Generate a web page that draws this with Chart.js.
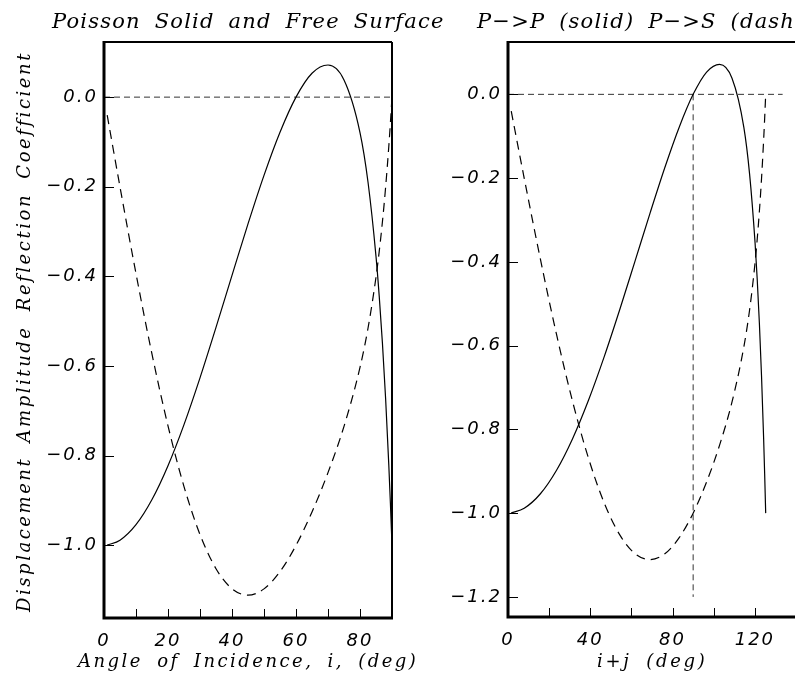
<!DOCTYPE html>
<html>
<head>
<meta charset="utf-8">
<script src="https://cdn.jsdelivr.net/npm/chart.js@4.4.1/dist/chart.umd.min.js"></script>
<style>
  html, body { margin: 0; padding: 0; background: #fff; }
  #fig { position: relative; width: 795px; height: 689px; overflow: hidden; background: #fff; }
  #fig canvas { position: absolute; top: 0; }
  .lbl { position: absolute; white-space: nowrap; font-family: "DejaVu Serif", serif; font-style: italic; color: #000; line-height: 1; word-spacing: 6px; }
</style>
</head>
<body>
<div id="fig">
  <canvas id="leftChart" width="430" height="689" style="left:0"></canvas>
  <canvas id="rightChart" width="420" height="689" style="left:420px"></canvas>
  <div class="lbl" id="title1" style="left:52px; top:10.5px; font-size:21px">Poisson Solid and Free Surface</div>
  <div class="lbl" id="title2" style="left:477px; top:10.5px; font-size:21px">P&minus;&gt;P (solid) P&minus;&gt;S (dashed)</div>
  <div class="lbl" id="xlab1" style="left:78px; top:652px; font-size:18px">Angle of Incidence, i, (deg)</div>
  <div class="lbl" id="xlab2" style="left:597px; top:652px; font-size:18px">i+j (deg)</div>
  <div class="lbl" id="ylab" style="left:15px; top:612px; font-size:18px; transform-origin:0 0; transform:rotate(-90deg)">Displacement Amplitude Reflection Coefficient</div>
</div>
<script>
// angle of incidence i (deg) and i+j (deg), with the two coefficients
const incidence = [1, 5, 10, 15, 20, 25, 30, 35, 40, 45, 50, 55, 60, 65, 70, 75, 80, 82.5, 85, 86, 87, 88, 89, 89.5, 90];
const sumAngle = [1.577, 7.885, 15.754, 23.594, 31.389, 39.123, 46.779, 54.339, 61.784, 69.095, 76.249, 83.225, 90.0,
  96.551, 102.856, 108.895, 114.651, 117.419, 120.110, 121.166, 122.209, 123.239, 124.258, 124.763, 125.264];
const rpp = [-0.9995, -0.9883, -0.9537, -0.8976, -0.8222, -0.7305, -0.6263, -0.5138, -0.3977, -0.2829, -0.1746, -0.0784, 0.0,
  0.0533, 0.0717, 0.0384, -0.0789, -0.1893, -0.3553, -0.4434, -0.5477, -0.6718, -0.8205, -0.9060, -1.0];
const rps = [-0.0403, -0.2004, -0.3937, -0.5734, -0.7334, -0.8688, -0.9758, -1.0520, -1.0968, -1.1110, -1.0970, -1.0586, -1.0,
  -0.9255, -0.8376, -0.7344, -0.6028, -0.5156, -0.4015, -0.3446, -0.2787, -0.2015, -0.1100, -0.0576, 0.0];

const zeroLineLeft = [0, 90];
const zeroLineRight = [0, 133.5];
const refLineX = 90;
const refLineY = [0, -1.2];

const leftXLabels = [0, 20, 40, 60, 80];
const leftXMarks = [10, 20, 30, 40, 50, 60, 70, 80];
const leftYLabels = [0, -0.2, -0.4, -0.6, -0.8, -1.0];
const rightXLabels = [0, 40, 80, 120];
const rightXMarks = [20, 40, 60, 80, 100, 120];
const rightYLabels = [0, -0.2, -0.4, -0.6, -0.8, -1.0, -1.2];

const tickFont = { family: "DejaVu Sans", style: "italic", size: 18 };

function pts(xs, ys) {
  return xs.map((x, k) => ({ x, y: ys[k] }));
}

function curve(data, dash) {
  return {
    data,
    borderColor: "#000",
    borderWidth: 1.2,
    borderDash: dash || [],
    pointRadius: 0,
    fill: false,
    cubicInterpolationMode: "monotone"
  };
}

function guide(data) {
  return { data, borderColor: "#333", borderWidth: 1, borderDash: [6, 4], pointRadius: 0, fill: false, tension: 0 };
}

function fmt(v) {
  return (v < 0 ? "\u2212" : "") + Math.abs(v).toFixed(1);
}

// frame with heavy left/bottom axes and inward tick marks
const framePlugin = {
  id: "frame",
  beforeDraw(chart) {
    chart.ctx.letterSpacing = "2px";
  },
  afterDraw(chart, args, opts) {
    const { ctx, chartArea: a, scales: { x, y } } = chart;
    ctx.save();
    ctx.strokeStyle = "#000";
    ctx.lineWidth = 1;
    ctx.beginPath();
    for (const v of opts.xMarks) {
      const px = Math.round(x.getPixelForValue(v)) + 0.5;
      ctx.moveTo(px, a.bottom);
      ctx.lineTo(px, a.bottom - 9);
    }
    for (const v of opts.yMarks) {
      const py = Math.round(y.getPixelForValue(v)) + 0.5;
      ctx.moveTo(a.left, py);
      ctx.lineTo(a.left + 10, py);
    }
    ctx.stroke();
    ctx.lineWidth = 2;
    ctx.beginPath();
    ctx.moveTo(a.left, a.top);
    ctx.lineTo(a.right, a.top);
    if (opts.right) {
      ctx.moveTo(a.right, a.top);
      ctx.lineTo(a.right, a.bottom);
    }
    ctx.stroke();
    ctx.lineWidth = 3;
    ctx.beginPath();
    ctx.moveTo(a.left, a.top - 1);
    ctx.lineTo(a.left, a.bottom);
    ctx.lineTo(a.right + 1, a.bottom);
    ctx.stroke();
    ctx.restore();
  }
};

function makeChart(id, c) {
  return new Chart(document.getElementById(id), {
    type: "line",
    data: { datasets: c.datasets },
    options: {
      responsive: false,
      animation: false,
      layout: { padding: c.padding },
      plugins: {
        legend: { display: false },
        tooltip: { enabled: false },
        frame: { xMarks: c.xMarks, yMarks: c.yLabels, right: c.right }
      },
      scales: {
        x: {
          type: "linear",
          min: c.xMin,
          max: c.xMax,
          grid: { display: false, drawTicks: false },
          border: { display: false },
          ticks: { font: tickFont, color: "#000", padding: 13, maxRotation: 0, autoSkip: false },
          afterBuildTicks: (s) => { s.ticks = c.xLabels.map((v) => ({ value: v })); },
          afterFit: (s) => { s.height = c.xHeight; }
        },
        y: {
          type: "linear",
          min: c.yMin,
          max: c.yMax,
          grid: { display: false, drawTicks: false },
          border: { display: false },
          ticks: { font: tickFont, color: "#000", padding: 6, autoSkip: false, callback: (v) => fmt(v) },
          afterBuildTicks: (s) => { s.ticks = c.yLabels.map((v) => ({ value: v })); },
          afterFit: (s) => { s.width = c.yWidth; }
        }
      }
    },
    plugins: [framePlugin]
  });
}

makeChart("leftChart", {
  datasets: [
    curve(pts(incidence, rpp)),
    curve(pts(incidence, rps), [9, 6]),
    guide(pts(zeroLineLeft, [0, 0]))
  ],
  padding: { left: 0, right: 38, top: 42, bottom: 0 },
  xMin: 0, xMax: 90, yMin: -1.162, yMax: 0.123,
  xLabels: leftXLabels, xMarks: leftXMarks, yLabels: leftYLabels,
  xHeight: 71, yWidth: 104, right: true
});

makeChart("rightChart", {
  datasets: [
    curve(pts(sumAngle, rpp)),
    curve(pts(sumAngle, rps), [9, 6]),
    guide(pts(zeroLineRight, [0, 0])),
    guide(pts([refLineX, refLineX], refLineY))
  ],
  padding: { left: 0, right: 44, top: 42, bottom: 0 },
  xMin: 0, xMax: 140, yMin: -1.248, yMax: 0.125,
  xLabels: rightXLabels, xMarks: rightXMarks, yLabels: rightYLabels,
  xHeight: 72, yWidth: 88, right: false
});

// stretch the label text to the widths of the original lettering
function spread(el, target) {
  el.style.letterSpacing = "0px";
  const n = el.textContent.length;
  const w = el.offsetWidth;
  const ls = (target - w) / (n - 1);
  el.style.letterSpacing = ls + "px";
  return ls;
}
const ls = spread(document.getElementById("title1"), 391);
document.getElementById("title2").style.letterSpacing = ls + "px";
spread(document.getElementById("xlab1"), 338);
spread(document.getElementById("xlab2"), 108);
spread(document.getElementById("ylab"), 557);
</script>
</body>
</html>
